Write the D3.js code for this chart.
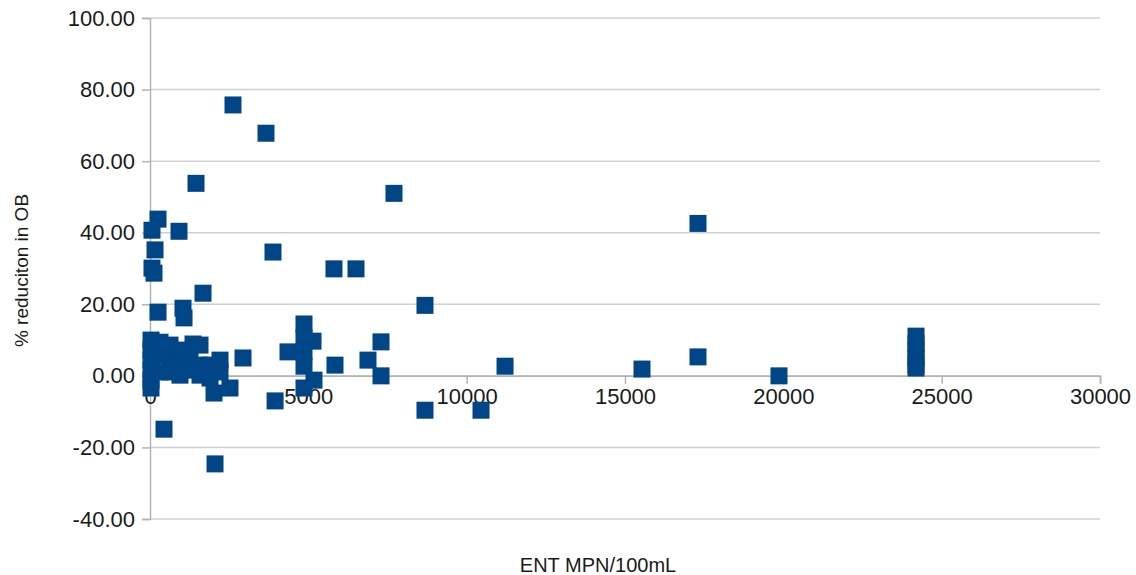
<!DOCTYPE html>
<html>
<head>
<meta charset="utf-8">
<script src="https://cdn.jsdelivr.net/npm/d3@7"></script>
<style>
  html, body { margin: 0; padding: 0; background: #fff; }
  svg text { font-family: "Liberation Sans", Arial, sans-serif; fill: #1a1a1a; }
</style>
</head>
<body>
<svg id="chart" width="1136" height="575"></svg>
<script>
// ENT MPN/100mL values
const entMPN = [
  2621, 3663, 1453, 7705, 17305, 253, 63, 916, 158, 3884, 63, 126, 5810, 6505, 1674,
  253, 1042, 1074, 8684, 4863, 4863, 4863, 4863, 4863, 5148, 4358, 5842, 5179, 6884,
  7295, 7295, 8684, 10453, 11211, 15537, 17305, 19863,
  24190, 24190, 24190, 24190, 24190, 24190,
  32, 32, 32, 32, 32, 32, 316, 316, 316, 632, 632, 632, 947, 947, 947,
  1263, 1263, 1358, 1579, 1579, 1579, 1895, 1895, 2211, 2211, 2937,
  2021, 2526, 2053, 442, 3950
];
// % reduction in OB values
const reductionOB = [
  75.7, 67.8, 53.8, 51.0, 42.6, 43.8, 40.7, 40.4, 35.2, 34.6, 30.1, 28.7, 29.9, 29.9, 23.1,
  17.8, 18.9, 16.2, 19.7, 14.5, 10.6, 6.7, 2.7, -3.4, 9.7, 6.7, 3.0, -1.2, 4.4,
  9.5, 0.0, -9.6, -9.6, 2.7, 1.9, 5.3, 0.0,
  11.1, 9.0, 7.0, 5.0, 3.0, 2.2,
  10.0, 7.2, 4.4, 1.6, -1.2, -3.4, 9.4, 5.8, 1.1, 8.6, 4.4, 1.1, 7.2, 3.0, 0.2,
  5.0, 1.6, 8.9, 8.6, 3.0, 0.2, 3.0, -0.6, 4.4, 1.1, 5.0,
  -4.8, -3.4, -24.6, -14.9, -7.0
];
const xTicks = [0, 5000, 10000, 15000, 20000, 25000, 30000];
const yTicks = [-40, -20, 0, 20, 40, 60, 80, 100];
const xTitle = "ENT MPN/100mL";
const yTitle = "% reduciton in OB";

const points = entMPN.map((v, i) => ({ x: v, y: reductionOB[i] }));

const svg = d3.select("#chart");
const mLeft = 150, mRight = 1100, mTop = 18, mBottom = 519;

const x = d3.scaleLinear().domain([0, 30000]).range([mLeft, mRight]);
const y = d3.scaleLinear().domain([-40, 100]).range([mBottom, mTop]);

const grid = "#d0d0d0";
const axisCol = "#b3b3b3";
const fontFam = "'Liberation Sans', Arial, sans-serif";

// horizontal gridlines
svg.append("g").selectAll("line").data(yTicks).join("line")
  .attr("x1", mLeft).attr("x2", mRight)
  .attr("y1", d => y(d)).attr("y2", d => y(d))
  .attr("stroke", grid).attr("stroke-width", 1.5);

// y axis
const yAxis = svg.append("g").attr("transform", `translate(${mLeft},0)`)
  .call(d3.axisLeft(y).tickValues(yTicks).tickFormat(d => d.toFixed(2)).tickSize(8).tickPadding(7));
yAxis.select(".domain").attr("stroke", axisCol).attr("stroke-width", 1.5);
yAxis.selectAll(".tick line").attr("stroke", axisCol).attr("stroke-width", 1.5);
yAxis.selectAll("text").attr("font-size", 22).attr("fill", "#1a1a1a").style("font-family", fontFam);

// x axis at y=0
const xAxis = svg.append("g").attr("transform", `translate(0,${y(0)})`)
  .call(d3.axisBottom(x).tickValues(xTicks).tickFormat(d => String(d)).tickSize(8).tickPadding(5));
xAxis.select(".domain").attr("stroke", axisCol).attr("stroke-width", 1.5);
xAxis.selectAll(".tick line").attr("stroke", axisCol).attr("stroke-width", 1.5);
xAxis.selectAll("text").attr("font-size", 22).attr("fill", "#1a1a1a").style("font-family", fontFam);

// markers
const s = 17;
svg.append("g").selectAll("rect").data(points).join("rect")
  .attr("x", d => x(d.x) - s / 2)
  .attr("y", d => y(d.y) - s / 2)
  .attr("width", s).attr("height", s)
  .attr("fill", "#004586");

// titles
svg.append("text").attr("x", 598).attr("y", 572)
  .attr("text-anchor", "middle").attr("font-size", 20).text(xTitle);
svg.append("text")
  .attr("transform", `translate(28,${(mTop + mBottom) / 2 + 2}) rotate(-90)`)
  .attr("text-anchor", "middle").attr("font-size", 19).text(yTitle);
</script>
</body>
</html>
